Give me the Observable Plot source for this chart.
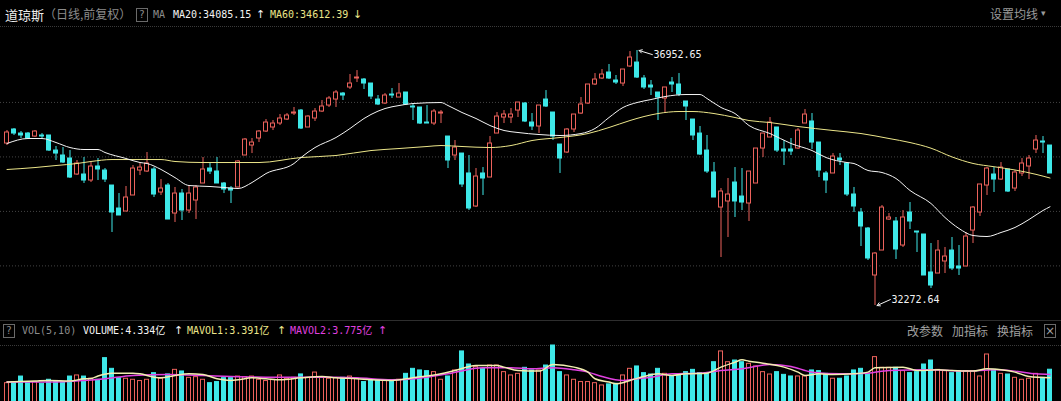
<!DOCTYPE html>
<html><head><meta charset="utf-8">
<script src="https://cdn.jsdelivr.net/npm/d3@7"></script>
<script src="https://cdn.jsdelivr.net/npm/@observablehq/plot@0.6"></script>
<style>
html,body{margin:0;padding:0;background:#000;width:1061px;height:401px;overflow:hidden;}
#root{position:relative;width:1061px;height:401px;background:#000;overflow:hidden;}
.t{position:absolute;white-space:nowrap;line-height:1;}
.cjk{font-family:"Noto Sans CJK SC",sans-serif;font-size:12px;}
.mono{font-family:"DejaVu Sans Mono",monospace;font-size:10px;}
.arr{font-family:"DejaVu Sans",sans-serif;font-size:11px;}
.box{position:absolute;border:1px solid #6a6a6a;width:10px;height:12px;color:#8a8a8a;font:10px "DejaVu Sans",sans-serif;text-align:center;line-height:12px;}
.hline{position:absolute;left:0;width:1061px;height:0;}
#price{position:absolute;left:0;top:30px;}
#vol{position:absolute;left:0;top:345px;}
</style></head>
<body><div id="root"></div>
<script>
// ---- data ----
const opens = [35246,35503,35429,35429,35374,35393,35393,35117,35026,34971,
34677,34677,34567,34824,34750,34475,34053,33998,34292,34750,
34732,34769,34347,34475,33961,34328,34016,34200,34512,34787,
34732,34512,34420,34439,35026,35209,35338,35466,35540,35613,
35686,35796,35851,35540,35705,35833,35943,36053,36163,36274,
36439,36420,36347,36053,35980,36145,36090,36182,35925,35907,
35631,35613,35796,35374,35026,35062,34696,34090,34696,34622,
35429,35723,35723,35851,35980,35631,35558,36053,35815,35227,
35081,35503,35796,35980,36329,36439,36549,36402,36347,36659,
36732,36439,36310,36182,36072,36365,36329,36017,35686,35429,
35117,34714,34071,34182,34530,34273,34145,34512,35154,35356,
35540,35136,35136,35154,35613,35650,35264,34696,34696,34971,
34879,34310,33980,33686,32824,33282,33851,33815,33374,33980,
33631,33576,32879,32860,33081,33282,32989,32989,33649,33980,
34475,34677,34585,34769,34420,34696,34824,35136,35283,35209];
const highs = [35484,35521,35466,35448,35484,35429,35393,35191,35172,35117,
34934,34989,34897,34971,34787,34475,34328,34457,34842,34879,
35081,34805,34585,34512,34439,34402,34475,34475,34989,34879,
34989,34530,34457,34934,35338,35338,35484,35686,35668,35778,
35796,35907,35870,35760,35888,36035,36108,36218,36182,36512,
36585,36439,36347,36127,36163,36255,36347,36182,35980,35907,
35943,35870,35851,35374,35301,35062,35026,34787,34805,35374,
35815,35851,35888,35998,35998,35796,35943,36218,35815,35227,
35521,35778,36090,36329,36530,36604,36696,36494,36604,36934,
36952.65,36494,36402,36182,36274,36457,36530,36017,35686,35558,
35393,34897,34420,34604,34805,34787,34732,35154,35429,35723,
35540,35301,35338,35521,35870,35796,35264,34732,35062,35062,
34879,34439,34053,33705,33246,34108,33961,33888,34016,34163,
33631,33576,33411,33466,33338,33521,33374,33613,34090,34494,
34805,34805,34897,34769,34750,34971,35026,35393,35374,35209];
const lows = [35209,35393,35338,35319,35356,35319,35099,34934,34879,34604,
34659,34512,34530,34567,34530,33613,33925,33998,34292,34659,
34714,34255,34292,33851,33796,33833,33961,33851,34512,34677,
34512,34328,34145,34439,35026,35062,35264,35448,35484,35576,
35668,35760,35503,35540,35650,35815,35907,35907,36035,36237,
36365,36237,36053,35943,35962,36072,36090,35943,35668,35595,
35613,35576,35613,34787,34934,34439,34016,34071,34292,34622,
35429,35613,35613,35723,35631,35484,35429,35907,35301,34696,
35062,35448,35778,35962,36310,36420,36420,36329,36292,36641,
36439,36237,36127,35668,35815,36182,36108,35668,35301,35026,
34696,34255,33154,33521,33888,34016,33815,34512,34989,35356,
35081,34842,35026,35136,35613,35136,34622,34328,34696,34842,
34273,33980,33356,33099,32272.64,33282,33833,33117,33338,33668,
33246,32824,32585,32860,32860,32915,32824,32989,33411,33907,
34292,34347,34567,34347,34365,34640,34585,35062,35062,34696];
const closes = [35448,35429,35393,35338,35466,35374,35117,35062,34897,34622,
34879,34567,34824,34769,34585,33980,33925,34255,34787,34805,
34879,34310,34420,33851,34328,34016,34328,34439,34769,34732,
34512,34402,34383,34916,35319,35264,35466,35631,35613,35705,
35760,35815,35521,35741,35833,35925,36072,36182,36127,36347,
36457,36347,36108,35962,36127,36127,36163,35962,35907,35613,
35613,35833,35815,34934,35172,34494,34053,34640,34604,35246,
35741,35778,35778,35998,35650,35558,35943,35925,35374,34971,
35503,35778,35962,36329,36420,36512,36439,36365,36604,36824,
36457,36274,36274,36090,36274,36329,36145,35925,35393,35044,
34732,34255,34365,34310,34182,34163,34732,35154,35429,35631,
35117,35099,35099,35484,35778,35264,34750,34567,35007,34934,
34310,34090,33723,33136,33227,34071,33888,33301,33888,33815,
33613,32824,32640,33282,33172,32952,32952,33539,34071,34494,
34787,34585,34805,34365,34714,34879,34971,35301,35264,34696];
// volume, 亿
const volumes = [2.75,2.88,3.53,2.88,2.88,2.68,3.15,2.88,2.88,3.53,
3.66,3.53,3.27,3.15,5.70,4.44,3.34,3.27,3.15,3.00,
3.15,3.93,3.27,3.78,4.32,4.13,3.38,3.46,3.15,2.75,
2.88,3.34,3.34,3.53,3.46,3.53,3.15,3.00,3.15,3.66,
3.27,3.38,3.78,3.38,4.00,3.38,3.27,3.34,3.38,3.53,
3.27,2.88,3.07,3.00,3.07,3.00,3.15,3.85,4.44,4.25,
4.17,4.05,3.15,3.54,4.25,6.49,4.95,4.64,4.44,4.83,
4.83,4.05,3.66,3.85,4.56,4.25,4.25,4.83,7.19,4.05,
3.66,3.15,2.88,2.88,2.75,2.48,2.61,2.68,3.66,4.44,
4.72,3.93,3.77,4.44,3.85,3.54,3.66,4.05,4.32,3.93,
3.93,5.22,6.49,5.22,5.42,5.22,5.03,4.72,4.05,3.77,
4.05,3.73,3.54,3.54,3.54,4.25,4.17,3.85,3.27,3.27,
3.54,4.25,4.44,3.85,5.82,4.56,4.56,4.56,4.17,3.93,
4.05,4.95,5.42,4.32,4.17,3.93,4.17,4.17,4.17,3.54,
6.13,4.32,3.85,3.77,3.38,3.15,3.27,3.85,3.38,4.334];
// moving averages as drawn [bar index, value]
const ma20 = [[0,35246],[3,35338],[5,35338],[7,35264],[9,35172],[11,35136],[13,35136],[14,35081],[17,34971],[19,34897],[20,34879],[22,34770],[24,34620],[26,34475],[29,34457],[31,34439],[33,34420],[35,34530],[37,34695],[41,34879],[42,34989],[44,35172],[47,35356],[49,35521],[51,35705],[53,35840],[54,35888],[56,35943],[58,35980],[62,35998],[63,35943],[65,35815],[67,35705],[69,35576],[71,35485],[73,35448],[76,35411],[79,35393],[82,35429],[84,35521],[86,35723],[88,35907],[90,35998],[92,36053],[94,36108],[97,36145],[99,36145],[100,36072],[102,35907],[104,35796],[106,35576],[109,35429],[112,35246],[115,35117],[117,34989],[120,34897],[121,34879],[123,34751],[125,34714],[127,34604],[129,34384],[132,34145],[134,33888],[136,33686],[138,33558],[140,33539],[142,33613],[144,33705],[146,33851],[148,34017],[149,34085.15]];
const ma60 = [[0,34769],[4,34805],[7,34842],[10,34879],[12,34916],[15,34952],[18,34952],[22,34952],[24,34916],[28,34897],[36,34897],[42,34989],[47,35026],[52,35117],[56,35154],[60,35191],[62,35209],[65,35191],[69,35172],[72,35209],[75,35301],[79,35356],[83,35429],[86,35540],[89,35668],[91,35741],[93,35796],[96,35833],[98,35833],[101,35796],[104,35723],[106,35668],[109,35631],[113,35558],[118,35485],[122,35429],[126,35338],[129,35264],[132,35160],[135,35000],[138,34880],[141,34820],[144,34760],[147,34680],[149,34612.39]];
const mavol1 = [[0,2.88],[4,3.0],[6,3.07],[9,3.0],[11,3.27],[12,3.3],[13,3.6],[15,3.93],[18,3.93],[19,3.85],[21,3.46],[22,3.38],[24,3.66],[26,3.85],[28,3.77],[30,3.27],[32,3.07],[33,3.15],[35,3.38],[37,3.27],[39,3.15],[42,3.38],[45,3.54],[47,3.38],[50,3.27],[52,3.15],[55,3.07],[58,3.38],[62,3.85],[64,4.25],[67,4.83],[70,4.83],[71,4.64],[73,4.25],[76,4.17],[78,4.95],[81,4.64],[83,4.05],[84,3.27],[86,2.88],[87,2.68],[89,3.07],[91,3.54],[93,3.85],[95,3.66],[97,3.85],[100,3.93],[102,4.64],[104,5.22],[105,5.5],[106,5.34],[108,5.1],[111,4.64],[113,4.05],[114,3.66],[116,3.85],[118,3.77],[121,3.85],[123,4.05],[124,4.56],[128,4.64],[130,4.25],[133,4.32],[135,4.25],[138,4.17],[140,4.44],[142,4.32],[144,4.05],[146,3.54],[149,3.391]];
const mavol2 = [[0,2.88],[6,2.88],[11,3.07],[14,3.27],[18,3.66],[23,3.77],[28,3.66],[32,3.54],[37,3.46],[47,3.46],[50,3.38],[55,3.15],[59,3.34],[63,3.85],[68,4.56],[72,4.56],[75,4.44],[78,4.56],[81,4.32],[83,4.05],[85,3.54],[88,3.07],[90,3.27],[92,3.46],[95,3.85],[99,3.93],[102,4.25],[105,4.44],[109,4.95],[112,4.72],[115,4.05],[119,3.85],[123,3.93],[126,4.25],[132,4.32],[137,4.17],[141,4.32],[144,4.17],[147,3.85],[149,3.775]];
const gridPrices = [33000, 34000, 35000, 36000];
const headerValues = {ma20: "34085.15", ma60: "34612.39", volume: "4.334亿", mavol1: "3.391亿", mavol2: "3.775亿"};

// ---- colours ----
const RED = "#ec625c", CYAN = "#3ee8e8", WHITE = "#f4f4f4", YELLOW = "#ece68a", MAGENTA = "#e040e0", GRAY = "#8c8c8c";

const root = document.getElementById("root");
function el(cls, text, left, top, color, extra) {
  const d = document.createElement("div");
  d.className = cls; d.textContent = text;
  d.style.left = left + "px"; d.style.top = top + "px";
  if (color) d.style.color = color;
  if (extra) Object.assign(d.style, extra);
  root.appendChild(d); return d;
}
function line(top, style) {
  const d = document.createElement("div");
  d.className = "hline"; d.style.top = top + "px"; d.style.borderTop = style;
  root.appendChild(d);
}
// header
el("t cjk", "道琼斯", 5, 8, "#ececec", {fontSize: "13px"});
el("t cjk", "（日线,前复权）", 44, 8, GRAY);
el("box", "?", 136, 8);
el("t mono", "MA", 153, 10, GRAY);
el("t mono", "MA20:" + headerValues.ma20, 173, 10, WHITE);
el("t arr", "↑", 256, 9, WHITE);
el("t mono", "MA60:" + headerValues.ma60, 270, 10, YELLOW);
el("t arr", "↓", 353, 9, YELLOW);
el("t cjk", "设置均线", 990, 8, "#9a9a9a");
el("t arr", "▾", 1041, 9, "#9a9a9a", {fontSize: "9px"});
line(26, "1px dotted #3a3a3a");
// volume header
line(320, "1px solid #2e2e2e");
el("box", "?", 3, 324);
el("t mono", "VOL(5,10)", 22, 326, GRAY);
el("t mono", "VOLUME:" + headerValues.volume, 83, 326, WHITE, {fontFamily: "'DejaVu Sans Mono','Noto Sans CJK SC',monospace"});
el("t arr", "↑", 174, 325, WHITE);
el("t mono", "MAVOL1:" + headerValues.mavol1, 187, 326, YELLOW, {fontFamily: "'DejaVu Sans Mono','Noto Sans CJK SC',monospace"});
el("t arr", "↑", 277, 325, YELLOW);
el("t mono", "MAVOL2:" + headerValues.mavol2, 290, 326, MAGENTA, {fontFamily: "'DejaVu Sans Mono','Noto Sans CJK SC',monospace"});
el("t arr", "↑", 378, 325, MAGENTA);
el("t cjk", "改参数", 907, 325, "#a0a0a0");
el("t cjk", "加指标", 952, 325, "#a0a0a0");
el("t cjk", "换指标", 997, 325, "#a0a0a0");
el("box", "×", 1044, 324, "#a0a0a0", {fontSize: "12px"});
line(345, "1px dotted #3a3a3a");

// ---- chart ----
const candles = opens.map((o, i) => ({i, o, h: highs[i], l: lows[i], c: closes[i], v: volumes[i], up: closes[i] >= o}));
const half = 2 / 7;
const xOpt = {type: "linear", domain: [-0.5, 149.5], range: [3, 1053], axis: null};
const hiIdx = d3.maxIndex(highs), loIdx = d3.minIndex(lows);
const notes = [
  {i: hiIdx, p: highs[hiIdx], q: highs[hiIdx] - 75, label: d3.format(".2f")(highs[hiIdx])},
  {i: loIdx, p: lows[loIdx], q: lows[loIdx] + 110, label: d3.format(".2f")(lows[loIdx])}
];

const pricePlot = Plot.plot({
  width: 1061, height: 290, margin: 0,
  x: xOpt,
  y: {domain: [31998, 37320], range: [290, 0], axis: null},
  color: {type: "identity"},
  style: {background: "transparent", overflow: "visible"},
  marks: [
    Plot.ruleY(gridPrices, {stroke: "#444", strokeDasharray: "1,2"}),
    Plot.ruleX(candles, {x: "i", y1: "l", y2: "h", stroke: d => d.up ? RED : CYAN}),
    Plot.rect(candles, {x1: d => d.i - half, x2: d => d.i + half, y1: "o", y2: "c",
      fill: d => d.up ? "#000" : CYAN, stroke: d => d.up ? RED : CYAN}),
    Plot.line(ma60, {x: d => d[0], y: d => d[1], stroke: YELLOW, strokeWidth: 1, curve: "monotone-x"}),
    Plot.line(ma20, {x: d => d[0], y: d => d[1], stroke: WHITE, strokeWidth: 1, curve: "monotone-x"}),
    Plot.arrow(notes, {x1: d => d.i + 2.2, y1: "q", x2: d => d.i + 0.3, y2: "p", stroke: WHITE, headLength: 5, strokeWidth: 1}),
    Plot.text(notes, {x: d => d.i + 2.2, y: "q", text: "label", textAnchor: "start", dx: 1, fill: WHITE,
      fontSize: 10, fontFamily: "DejaVu Sans Mono"})
  ]
});
const pdiv = document.createElement("div"); pdiv.id = "price"; pdiv.appendChild(pricePlot); root.appendChild(pdiv);

const volPlot = Plot.plot({
  width: 1061, height: 61, margin: 0,
  x: xOpt,
  y: {domain: [0, 7.19], range: [61, 0], axis: null},
  color: {type: "identity"},
  style: {background: "transparent", overflow: "visible"},
  marks: [
    Plot.rect(candles, {x1: d => d.i - half, x2: d => d.i + half, y1: d => 0, y2: "v",
      fill: d => d.up ? "#000" : CYAN, stroke: d => d.up ? RED : CYAN}),
    Plot.line(mavol2, {x: d => d[0], y: d => d[1], stroke: MAGENTA, curve: "monotone-x"}),
    Plot.line(mavol1, {x: d => d[0], y: d => d[1], stroke: "#f2eeb0", curve: "monotone-x"})
  ]
});
const vdiv = document.createElement("div"); vdiv.id = "vol"; vdiv.appendChild(volPlot); root.appendChild(vdiv);
</script>
</body></html>
